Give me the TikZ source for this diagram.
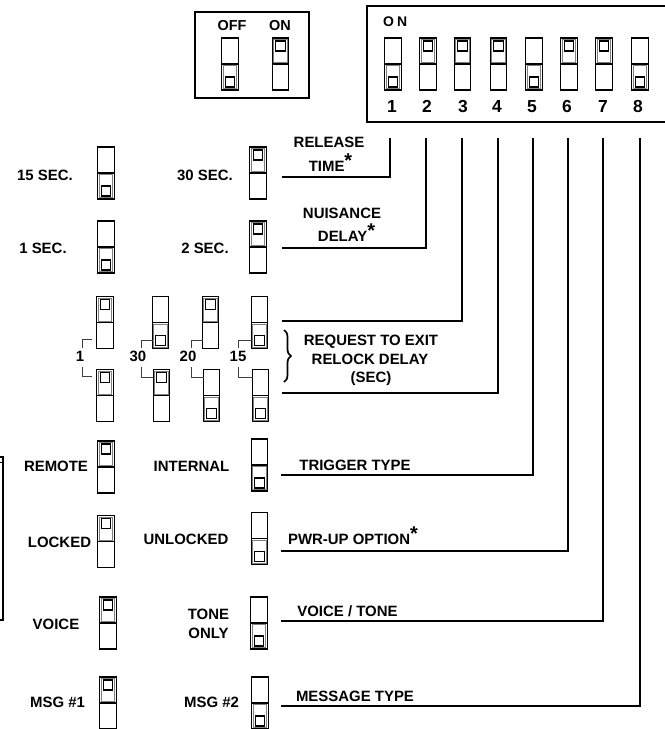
\documentclass[tikz,border=0pt]{standalone}
\usepackage{fontspec}
\setmainfont{Liberation Sans}
\usetikzlibrary{decorations.pathreplacing}
\newcommand\mystar{\raisebox{4bp}{\fontsize{20}{20}\selectfont *}}
\tikzset{
  lbl/.style={font=\fontsize{15}{15}\selectfont\bfseries, inner sep=0pt, anchor=base},
  numlbl/.style={font=\fontsize{17.5}{17.5}\selectfont\bfseries, inner sep=0pt, anchor=base},
  frame/.style={draw=black, line width=1.4pt},
  conn/.style={draw=black, line width=1.5pt},
  tick/.style={draw=black!75, line width=0.9pt},
  swframe/.style={draw=black, line width=1.2pt},
  knobhalf/.style={draw=black!50, line width=0.8pt},
  knob/.style={draw=black, line width=1.3pt},
  pics/swup/.style={code={
     \draw[swframe] (-8.3,-26) rectangle (8.3,26);
     \draw[swframe] (-8.3,0) -- (8.3,0);
     \draw[knobhalf] (-6.7,-24.4) rectangle (6.7,-1.4);
     \draw[knob] (-4.7,-23) rectangle (4.7,-13);
  }},
  pics/swdown/.style={code={
     \draw[swframe] (-8.3,-26) rectangle (8.3,26);
     \draw[swframe] (-8.3,0) -- (8.3,0);
     \draw[knobhalf] (-6.7,24.4) rectangle (6.7,1.4);
     \draw[knob] (-4.7,23) rectangle (4.7,13);
  }}
}
\begin{document}
\begin{tikzpicture}[x=1bp,y=-1bp]
\useasboundingbox (0,0) rectangle (665,729);

% legend box
\draw[frame] (195,12) rectangle (309,98);
\node[lbl, font=\fontsize{14.5}{14.5}\selectfont\bfseries] (off) at (232,31) {OFF};
\node[lbl, font=\fontsize{14.5}{14.5}\selectfont\bfseries] (on) at (280,31) {ON};
\pic (legoff) at (230,64) {swdown};
\pic (legon) at (280.5,64) {swup};

% main DIP box
\draw[frame] (668,6) -- (367,6) -- (367,122) -- (668,122);
\node[lbl, anchor=base west, font=\fontsize{14}{14}\selectfont\bfseries] (onlbl) at (383,27) {O\hspace{3bp}N};
\pic (d1) at (393,64) {swdown};
\pic (d2) at (428,64) {swup};
\pic (d3) at (462.5,64) {swup};
\pic (d4) at (498.5,64) {swup};
\pic (d5) at (534,64) {swdown};
\pic (d6) at (569,64) {swup};
\pic (d7) at (604,64) {swup};
\pic (d8) at (640,64) {swdown};
\node[numlbl] (n1) at (392,113) {1};
\node[numlbl] (n2) at (427,113) {2};
\node[numlbl] (n3) at (463,113) {3};
\node[numlbl] (n4) at (497,113) {4};
\node[numlbl] (n5) at (532,113) {5};
\node[numlbl] (n6) at (567,113) {6};
\node[numlbl] (n7) at (603,113) {7};
\node[numlbl] (n8) at (638,113) {8};

% partial box at left edge
\draw[line width=1.6pt] (-3,457) -- (3,457) -- (3,620) -- (-3,620);
\draw[line width=0.7pt] (-3,462) -- (2,462);

% row 1 : release time
\node[lbl] (s15) at (45,180.4) {15 SEC.};
\pic (r1a) at (106,173) {swdown};
\node[lbl] (s30) at (205,180.4) {30 SEC.};
\pic (r1b) at (258,173) {swup};
\node[lbl] (rel1) at (329,147.3) {RELEASE};
\node[lbl] (rel2) at (330.5,171) {TIME\mystar};

% row 2 : nuisance delay
\node[lbl] (s1) at (43,253) {1 SEC.};
\pic (r2a) at (106,247) {swdown};
\node[lbl] (s2) at (205,253) {2 SEC.};
\pic (r2b) at (258,247) {swup};
\node[lbl] (nui1) at (342,218) {NUISANCE};
\node[lbl] (nui2) at (346.5,241) {DELAY\mystar};

% row 3 : request to exit pairs
\pic (p1t) at (105,322.5) {swup};
\pic (p2t) at (160.5,322.5) {swdown};
\pic (p3t) at (210.5,322.5) {swup};
\pic (p4t) at (259.5,322.5) {swdown};
\pic (p1b) at (105,395.5) {swup};
\pic (p2b) at (161.5,395.5) {swup};
\pic (p3b) at (211.5,395.5) {swdown};
\pic (p4b) at (260.5,395.5) {swdown};
\node[lbl] (v1) at (80,361) {1};
\node[lbl] (v30) at (138,361) {30};
\node[lbl] (v20) at (188,361) {20};
\node[lbl] (v15) at (238,361) {15};
\draw[tick] (92,339) -- (82,339) -- (82,348);
\draw[tick] (82,367) -- (82,376) -- (92,376);
\draw[tick] (152.5,340) -- (141,340) -- (141,348);
\draw[tick] (141,367) -- (141,377) -- (153,377);
\draw[tick] (202.5,340) -- (191,340) -- (191,348);
\draw[tick] (191,367) -- (191,377) -- (203.5,377);
\draw[tick] (251.5,340) -- (238,340) -- (238,348);
\draw[tick] (238,367) -- (238,377) -- (252.5,377);
\draw[decorate, decoration={brace, amplitude=7bp, aspect=0.5}, line width=1.7pt] (284,330) -- (284,382);
\node[lbl] (rq1) at (371,345) {REQUEST TO EXIT};
\node[lbl] (rq2) at (370,364) {RELOCK DELAY};
\node[lbl] (rq3) at (371,382) {(SEC)};

% row 4 : trigger type
\node[lbl] (remote) at (56,471) {REMOTE};
\pic (r4a) at (106,467) {swup};
\node[lbl] (internal) at (191.5,471) {INTERNAL};
\pic (r4b) at (259.5,465) {swdown};
\node[lbl] (trig) at (355,470) {TRIGGER TYPE};

% row 5 : power-up option
\node[lbl] (locked) at (59.5,547) {LOCKED};
\pic (r5a) at (106,541.5) {swup};
\node[lbl] (unlocked) at (186,544) {UNLOCKED};
\pic (r5b) at (259.5,538.5) {swdown};
\node[lbl] (pwr) at (353,544) {PWR-UP OPTION\mystar};

% row 6 : voice / tone
\node[lbl] (voice) at (56,629) {VOICE};
\pic (r6a) at (108,623) {swup};
\node[lbl] (tone1) at (208.5,619) {TONE};
\node[lbl] (tone2) at (208.5,638) {ONLY};
\pic (r6b) at (259,623) {swdown};
\node[lbl] (vt) at (347.5,616) {VOICE / TONE};

% row 7 : message type
\node[lbl] (msg1) at (57.5,707) {MSG \#1};
\pic (r7a) at (108,703) {swup};
\node[lbl] (msg2) at (211.5,707) {MSG \#2};
\pic (r7b) at (260,703) {swdown};
\node[lbl] (mt) at (355,701) {MESSAGE TYPE};

% connectors
\coordinate (t1) at (390,138); \coordinate (e1) at (282,177);
\coordinate (t2) at (426,138); \coordinate (e2) at (282,248);
\coordinate (t3) at (462,138); \coordinate (e3) at (282,321);
\coordinate (t4) at (498,138); \coordinate (e4) at (282,393);
\coordinate (t5) at (533,138); \coordinate (e5) at (281,475);
\coordinate (t6) at (568,138); \coordinate (e6) at (281,551);
\coordinate (t7) at (603,138); \coordinate (e7) at (281,621);
\coordinate (t8) at (640,138); \coordinate (e8) at (281,706);
\foreach \i in {1,...,8} { \draw[conn] (t\i) |- (e\i); }
\end{tikzpicture}
\end{document}
